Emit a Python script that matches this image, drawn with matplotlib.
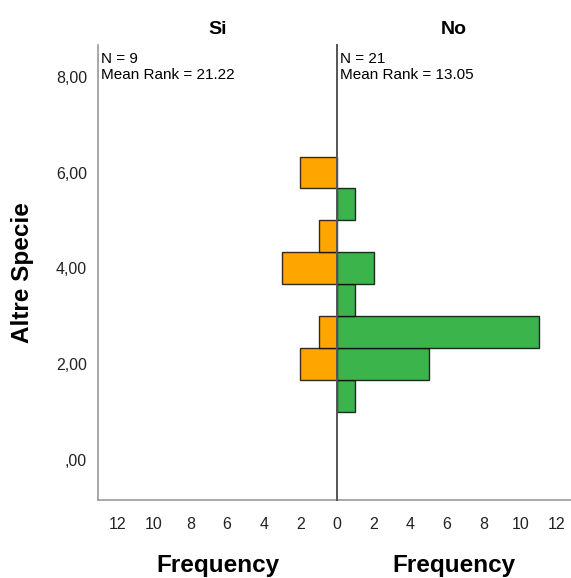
import numpy as np
import matplotlib
matplotlib.use('Agg')
import matplotlib.pyplot as plt

plt.rcParams['font.family'] = ['Liberation Sans', 'DejaVu Sans']

# Bin centres (Altre Specie) and frequencies per group
bin_centers = np.array([4, 6, 8, 10, 12, 14, 16, 18]) / 3.0
bin_width = 2.0 / 3.0
freq_si = [0, 2, 1, 0, 3, 1, 0, 2]
freq_no = [1, 5, 11, 1, 2, 0, 1, 0]

groups = ['Si', 'No']
n_labels = ['N = 9\nMean Rank = 21.22', 'N = 21\nMean Rank = 13.05']
y_ticks = [0, 2, 4, 6, 8]
y_ticklabels = [',00', '2,00', '4,00', '6,00', '8,00']
x_ticks_l = [2, 4, 6, 8, 10, 12]
x_ticks_r = [0, 2, 4, 6, 8, 10, 12]

fig = plt.figure(figsize=(5.71, 5.78), dpi=100)
ax_l = fig.add_axes([98 / 571, 0.135, 239 / 571, 0.787])
ax_r = fig.add_axes([337 / 571, 0.135, 234 / 571, 0.787])

edge = (0, 0, 0, 0.8)
ax_l.barh(bin_centers, freq_si, height=bin_width, color='#FFA500',
          edgecolor=edge, linewidth=1.0, zorder=2)
ax_r.barh(bin_centers, freq_no, height=bin_width, color='#3BB44B',
          edgecolor=edge, linewidth=1.0, zorder=2)

ylim = (-0.835, 8.66)
ax_l.set_xlim(13.05, 0)
ax_r.set_xlim(0, 12.77)
ax_l.set_xticks(x_ticks_l)
ax_r.set_xticks(x_ticks_r)
for ax in (ax_l, ax_r):
    ax.set_ylim(*ylim)
    ax.tick_params(axis='x', length=0, pad=12, labelsize=11.5, labelcolor='#222222')
    ax.spines['top'].set_visible(False)
    ax.spines['right'].set_visible(False)
    ax.spines['bottom'].set_color('#999999')
    ax.spines['bottom'].set_linewidth(1.2)
    ax.set_xlabel('Frequency', fontsize=17.5, fontweight='bold', labelpad=16)

ax_l.spines['left'].set_color('#999999')
ax_l.spines['left'].set_linewidth(1.2)
ax_r.spines['left'].set_color('#555555')
ax_r.spines['left'].set_linewidth(1.4)
ax_r.spines['left'].set_zorder(3)

ax_l.set_yticks(y_ticks)
ax_l.set_yticklabels(y_ticklabels)
ax_l.tick_params(axis='y', length=0, pad=8, labelsize=11.5, labelcolor='#222222')
ax_r.set_yticks([])
ax_l.set_ylabel('Altre Specie', fontsize=17.5, fontweight='bold', labelpad=16)

for ax, g, txt in zip((ax_l, ax_r), groups, n_labels):
    ax.set_title(g, fontsize=14, fontweight='bold', pad=8)
    ax.text(0.012, 0.985, txt, transform=ax.transAxes, ha='left', va='top',
            fontsize=11, linespacing=1.15)

fig.savefig('out.png', dpi=100)
